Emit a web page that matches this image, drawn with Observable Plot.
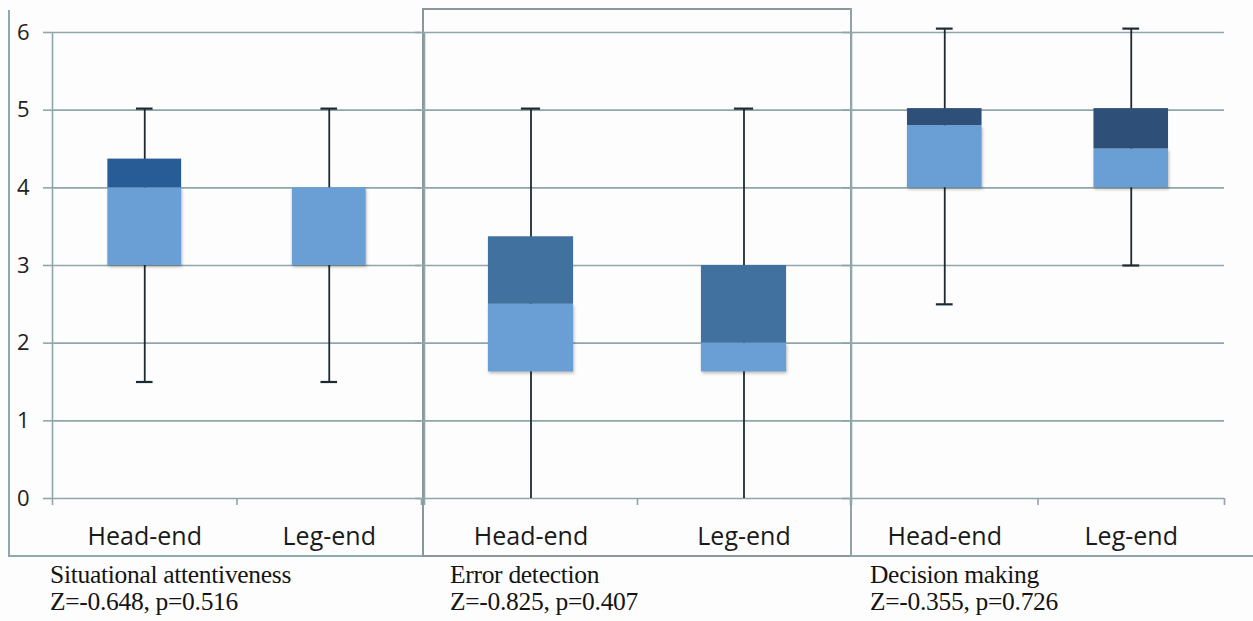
<!DOCTYPE html>
<html>
<head>
<meta charset="utf-8">
<script src="https://cdn.jsdelivr.net/npm/d3@7"></script>
<script src="https://cdn.jsdelivr.net/npm/@observablehq/plot@0.6"></script>
<style>
  body { margin: 0; background: #ffffff; }
  #root { position: relative; width: 1253px; height: 621px; overflow: hidden; background: #fdfdfd; }
  .frame { position: absolute; box-sizing: border-box; }
  .pnl { position: absolute; top: 0; }
  .caption { position: absolute; top: 561px; font-family: "Liberation Serif", "DejaVu Serif", serif; font-size: 25.5px; line-height: 27px; color: #141414; white-space: nowrap; letter-spacing: -0.3px; }
  .lowbox rect { filter: drop-shadow(1px 2px 1.5px rgba(0,0,0,0.25)); }
</style>
</head>
<body>
<div id="root"></div>
<script>
// ---- data ----
const categories = ["Head-end", "Leg-end"];
const panelTitles = ["Situational attentiveness", "Error detection", "Decision making"];
const panelStats = ["Z=-0.648, p=0.516", "Z=-0.825, p=0.407", "Z=-0.355, p=0.726"];
const yTicks = [0, 1, 2, 3, 4, 5, 6];
// per panel, per category
const minValues    = [[1.5, 1.5], [0, 0], [2.5, 3]];
const q1Values     = [[3, 3], [1.63, 1.63], [4, 4]];
const medianValues = [[4, 4], [2.5, 2], [4.8, 4.5]];
const q3Values     = [[4.37, 4], [3.37, 3], [5.02, 5.02]];
const maxValues    = [[5.02, 5.02], [5.02, 5.02], [6.05, 6.05]];

// ---- styles ----
const light = "#6a9fd5";
const darkColors = ["#275c96", "#41729f", "#2d4f78"];
const grid = "#8fa6ab";
const whisker = "#1d2a31";

const root = document.getElementById("root");

// panel frames (styling only)
const frames = [
  {left: 8, top: 10, width: 416, height: 547, css: "border-left:2px solid #8eaab0;border-bottom:2px solid #8eaab0;"},
  {left: 422, top: 8, width: 430, height: 549, css: "border:2px solid #8c979b;"},
  {left: 850, top: 8, width: 403, height: 549, css: "border-left:2px solid #8fa3a9;border-bottom:2px solid #8fa3a9;"}
];
frames.forEach(f => {
  const d = document.createElement("div");
  d.className = "frame";
  d.style.cssText = `left:${f.left}px;top:${f.top}px;width:${f.width}px;height:${f.height}px;${f.css}`;
  root.appendChild(d);
});

// panel layout (svg placement)
const layouts = [
  {left: 0, width: 421, marginLeft: 52},
  {left: 424, width: 426, marginLeft: 0},
  {left: 851, width: 373, marginLeft: 0}
];
const captionLefts = [50, 450, 870];

layouts.forEach((L, p) => {
  const data = categories.map((c, i) => ({
    cat: c, xc: i + 0.5,
    min: minValues[p][i], q1: q1Values[p][i], med: medianValues[p][i],
    q3: q3Values[p][i], max: maxValues[p][i]
  }));
  const chart = Plot.plot({
    width: L.width,
    height: 560,
    marginLeft: L.marginLeft,
    marginRight: 0,
    marginTop: 32,
    marginBottom: 62,
    style: {background: "transparent", overflow: "visible", fontFamily: "'Open Sans', sans-serif"},
    x: {domain: [0, 2], axis: null},
    y: {domain: [0, 6], axis: null},
    marks: [
      Plot.ruleY(yTicks, {stroke: grid, strokeWidth: 1.6}),
      Plot.axisY({
        ticks: yTicks, tickSize: 9, stroke: grid, strokeWidth: 1.6,
        tickPadding: 14, fontSize: 22, fill: "#222",
        tickFormat: p === 0 ? (d => String(d)) : (() => ""),
        label: null
      }),
      Plot.ruleX([0], {stroke: grid, strokeWidth: 1.6}),
      Plot.axisX({ticks: [0, 1, 2], tickSize: 7, stroke: grid, strokeWidth: 1.6, tickFormat: () => "", label: null}),
      Plot.text(data, {x: "xc", y: 0, text: "cat", dy: 38, fontSize: 25, fill: "#1a1a1a"}),
      Plot.ruleX(data, {x: "xc", y1: "min", y2: "max", stroke: whisker, strokeWidth: 1.8}),
      Plot.ruleY(data, {y: "max", x1: d => d.xc - 0.045, x2: d => d.xc + 0.045, stroke: whisker, strokeWidth: 2.2}),
      Plot.ruleY(data.filter(d => d.min > 0), {y: "min", x1: d => d.xc - 0.045, x2: d => d.xc + 0.045, stroke: whisker, strokeWidth: 2.2}),
      Plot.rectY(data, {x1: d => d.xc - 0.2, x2: d => d.xc + 0.2, y1: "q1", y2: "med", fill: light, className: "lowbox"}),
      Plot.rectY(data.filter(d => d.q3 > d.med), {x1: d => d.xc - 0.2, x2: d => d.xc + 0.2, y1: "med", y2: "q3", fill: darkColors[p]})
    ]
  });
  const wrap = document.createElement("div");
  wrap.className = "pnl";
  wrap.style.left = L.left + "px";
  wrap.appendChild(chart);
  root.appendChild(wrap);

  const cap = document.createElement("div");
  cap.className = "caption";
  cap.style.left = captionLefts[p] + "px";
  cap.innerHTML = panelTitles[p] + "<br>" + panelStats[p];
  root.appendChild(cap);
});
</script>
</body>
</html>
